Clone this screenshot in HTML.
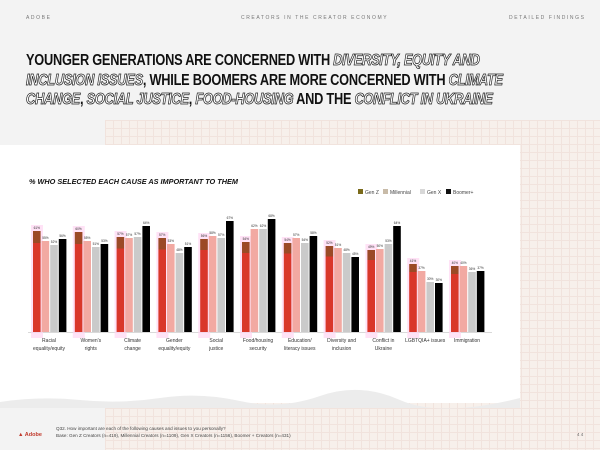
<!DOCTYPE html>
<html><head><meta charset="utf-8"><style>
html,body{margin:0;padding:0}
body{width:600px;height:450px;overflow:hidden;position:relative;background:#f3f3f3;font-family:"Liberation Sans",sans-serif}
.grid{position:absolute;left:105px;top:120px;width:495px;height:330px;background-color:#f8f0ea;
background-image:linear-gradient(#f1e0d8 1px,transparent 1px),linear-gradient(90deg,#f1e0d8 1px,transparent 1px);background-size:8px 8px;opacity:.8}
.card{position:absolute;left:0;top:145px;width:520px;height:258px;background:#fff}
.top{position:absolute;top:15px;font-size:5px;letter-spacing:1.6px;color:#777}
h1{position:absolute;left:26px;top:51px;margin:0;font-size:15.6px;line-height:19.5px;font-weight:900;color:#111;letter-spacing:-0.3px;white-space:nowrap;transform:scaleX(0.82);transform-origin:0 0}
.o{font-style:italic;color:#fff;-webkit-text-stroke:0.8px #222}
.sub{position:absolute;left:29px;top:177px;font-size:7.3px;font-weight:bold;font-style:italic;color:#111}
.foot{position:absolute;left:56px;top:425px;font-size:4.6px;color:#444;line-height:7px}
</style></head><body>
<div class="grid"></div>
<div class="top" style="left:26px">ADOBE</div>
<div class="top" style="left:241px">CREATORS IN THE CREATOR ECONOMY</div>
<div class="top" style="left:509px">DETAILED FINDINGS</div>
<h1>YOUNGER GENERATIONS ARE CONCERNED WITH <span class="o">DIVERSITY, EQUITY AND</span><br><span class="o">INCLUSION ISSUES</span>, WHILE BOOMERS ARE MORE CONCERNED WITH <span class="o">CLIMATE</span><br><span class="o">CHANGE</span>, <span class="o">SOCIAL JUSTICE</span>, <span class="o">FOOD-HOUSING</span> AND THE <span class="o">CONFLICT IN UKRAINE</span></h1>
<div class="card"></div>
<div class="sub">% WHO SELECTED EACH CAUSE AS IMPORTANT TO THEM</div>
<svg width="600" height="450" style="position:absolute;left:0;top:0" font-family="Liberation Sans, sans-serif">
<defs><linearGradient id="gz" x1="0" y1="0" x2="0" y2="1"><stop offset="0" stop-color="#9b4a26"/><stop offset="0.12" stop-color="#9b4a26"/><stop offset="0.12" stop-color="#d9372a"/><stop offset="1" stop-color="#d9372a"/></linearGradient></defs>
<g font-size="5" fill="#444">
<rect x="358" y="189" width="5" height="5" fill="#7a6a1a"/><text x="365" y="194">Gen Z</text>
<rect x="383" y="189" width="5" height="5" fill="#c8bba8"/><text x="390" y="194">Millennial</text>
<rect x="420" y="189" width="5" height="5" fill="#d8d8d8"/><text x="427" y="194">Gen X</text>
<rect x="446" y="189" width="5" height="5" fill="#111"/><text x="453" y="194">Boomer+</text>
</g>
<line x1="28" y1="332.5" x2="492" y2="332.5" stroke="#ccc" stroke-width="0.8"/>
<g id="bars"></g>
<g font-size="5" fill="#333" text-anchor="middle" id="labs"></g>
<path d="M0 402 Q40 396 80 400 T160 398 T240 401 T320 396 T400 400 T520 398 L520 408 L0 408Z" fill="#ececec"/>
<text x="18" y="436" font-size="5.5" font-weight="bold" fill="#c0392b">▲ Adobe</text>
</svg>
<div class="foot">Q32. How important are each of the following causes and issues to you personally?<br>Base: Gen Z Creators (n=419), Millennial Creators (n=1109), Gen X Creators (n=1156), Boomer + Creators (n=431)</div>
<div style="position:absolute;left:577px;top:432px;font-size:4.5px;color:#666">4 4</div>
<script>
var tops=[[231,241,245,239],[232,241,247,244],[237,238,237,226],[238,244,253,247],[239,236,238,221],[242,229,229,219],[243,238,243,236],[246,248,253,257],[250,249,244,226],[264,271,282,283],[266,266,272,271]];
var cats=[["Racial","equality/equity"],["Women's","rights"],["Climate","change"],["Gender","equality/equity"],["Social","justice"],["Food/housing","security"],["Education/","literacy issues"],["Diversity and","inclusion"],["Conflict in","Ukraine"],["LGBTQIA+ issues",""],["Immigration",""]];
var cols=["url(#gz)","#f2a9a2","#cacaca","#000"];
var s="",l="";
for(var g=0;g<11;g++){var x0=33+g*41.8;
s+='<rect x="'+(x0-2)+'" y="'+(tops[g][0]-6)+'" width="12" height="'+(338-tops[g][0]+6)+'" fill="#ffd6f2" opacity="0.7"/>';
for(var i=0;i<4;i++){var x=x0+i*8.6,y=tops[g][i];var v=Math.round((332-y)/1.66);
s+='<rect x="'+x+'" y="'+y+'" width="7.6" height="'+(332-y)+'" fill="'+cols[i]+'"/>';
s+='<text x="'+(x+3.8)+'" y="'+(y-2)+'" font-size="3.2" text-anchor="middle" fill="#333">'+v+'%</text>';}
var cx=x0+16;l+='<text x="'+cx+'" y="342">'+cats[g][0]+'</text><text x="'+cx+'" y="350">'+cats[g][1]+'</text>';}
document.getElementById('bars').innerHTML=s;document.getElementById('labs').innerHTML=l;
</script>
</body></html>
